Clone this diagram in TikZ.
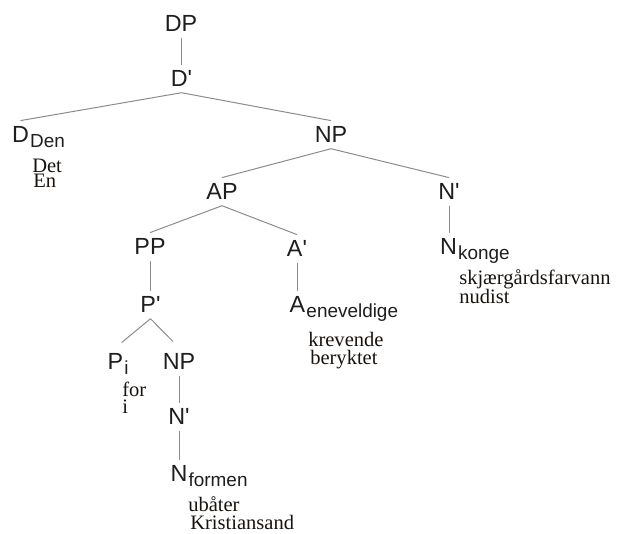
\documentclass[tikz,border=0pt]{standalone}
\usepackage{fontspec}
\setmainfont{Liberation Serif}
\newfontfamily\catfont[Ligatures=TeXOff]{Liberation Sans}
\newcommand\catsize{\catfont\fontsize{17.5}{20}\selectfont}
\newcommand\subsize{\catfont\fontsize{14.2}{16}\selectfont}
\newcommand\wordsize{\fontsize{15.4}{18}\selectfont}
% subscript hanging to the right of a category letter, taking no width
\newcommand\sbs[1]{\rlap{\kern0.9pt\raisebox{-3.4pt}{\subsize #1}}}
\definecolor{edgegray}{RGB}{140,140,140}
\definecolor{cattext}{RGB}{30,30,30}
\definecolor{wordtext}{RGB}{25,18,14}
\tikzset{
  cat/.style={font=\catsize, text=cattext, anchor=base, inner xsep=0pt,
    inner ysep=4.1pt, text height=12.5pt, text depth=0pt},
  word/.style={font=\wordsize, text=wordtext, anchor=base west, inner sep=0pt},
  edge/.style={draw=edgegray, line width=0.75pt}
}
\begin{document}
\begin{tikzpicture}[x=0.75pt,y=-0.75pt]
\useasboundingbox[fill=white] (0,0) rectangle (619,534);

% category labels
\node[cat] (dp)    at (181,32)    {DP};
\node[cat] (dbar)  at (181.5,87)  {D'};
\node[cat] (d)     at (20.5,143)  {D\sbs{Den}};
\node[cat] (np)    at (331,143)   {NP};
\node[cat] (ap)    at (222,200)   {AP};
\node[cat] (nbar)  at (449,200)   {N'};
\node[cat] (n)     at (448.5,255) {N\sbs{konge}};
\node[cat] (pp)    at (150,255)   {PP};
\node[cat] (abar)  at (297,257)   {A'};
\node[cat] (pbar)  at (150.5,313) {P'};
\node[cat] (a)     at (297.5,313) {A\sbs{eneveldige}};
\node[cat] (p)     at (115.5,370) {P\sbs{i}};
\node[cat] (np2)   at (179,370)   {NP};
\node[cat] (nbar2) at (179,425)   {N'};
\node[cat] (n2)    at (179,482)   {N\sbs{formen}};

% alternative words under the heads
\node[word] (w1)  at (32,173)  {Det};
\node[word] (w2)  at (33,188)  {En};
\node[word] (w3)  at (459,285) {skjærgårdsfarvann};
\node[word] (w4)  at (459,304) {nudist};
\node[word] (w5)  at (308,347) {krevende};
\node[word] (w6)  at (310,365) {beryktet};
\node[word] (w7)  at (122,397) {for};
\node[word] (w8)  at (122,414) {i};
\node[word] (w9)  at (188,512) {ubåter};
\node[word] (w10) at (190,530) {Kristiansand};

% branches
\draw[edge] (dp.south) -- (dp.south |- dbar.north);
\draw[edge] (dbar.south) -- (d.north);
\draw[edge] (dbar.south) -- (np.north);
\draw[edge] (np.south) -- (ap.north);
\draw[edge] (np.south) -- (nbar.north);
\draw[edge] (nbar.south) -- (nbar.south |- n.north);
\draw[edge] (ap.south) -- (pp.north);
\draw[edge] (ap.south) -- (abar.north);
\draw[edge] (pp.south) -- (pp.south |- pbar.north);
\draw[edge] (abar.south) -- (abar.south |- a.north);
\draw[edge, shorten >=6pt] (pbar.south) -- (p.north);
\draw[edge, shorten >=6.5pt] (pbar.south) -- (np2.north);
\draw[edge] (np2.south) -- (np2.south |- nbar2.north);
\draw[edge] (nbar2.south) -- (nbar2.south |- n2.north);
\end{tikzpicture}
\end{document}
